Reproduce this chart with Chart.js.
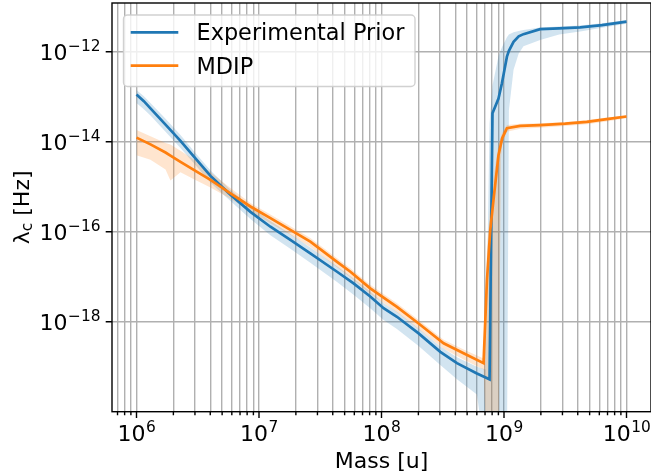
<!DOCTYPE html>
<html>
<head>
<meta charset="utf-8">
<script src="https://cdn.jsdelivr.net/npm/chart.js@4"></script>
<style>
html, body { margin: 0; padding: 0; background: #fff; }
#wrap { width: 651px; height: 476px; }
</style>
</head>
<body>
<div id="wrap"><canvas id="chart" width="651" height="476"></canvas></div>
<script>
// all values are log10: mass [u] and lambda_c [Hz]
const expMass = [6.000, 6.060, 6.114, 6.237, 6.359, 6.481, 6.604, 6.767, 6.930, 7.093, 7.256, 7.419, 7.637, 7.772, 7.908, 8.017, 8.126, 8.303, 8.480, 8.616, 8.779, 8.850, 8.882, 8.906, 8.955, 8.983, 9.024, 9.040, 9.078, 9.120, 9.159, 9.295, 9.450, 9.622, 9.800, 10.000];
const expMean = [-12.95, -13.10, -13.26, -13.62, -13.98, -14.37, -14.76, -15.18, -15.56, -15.89, -16.18, -16.48, -16.89, -17.15, -17.44, -17.70, -17.89, -18.26, -18.67, -18.92, -19.15, -19.24, -19.28, -13.37, -13.04, -12.70, -12.11, -11.98, -11.78, -11.66, -11.61, -11.50, -11.48, -11.46, -11.41, -11.33];
const expHi = [-12.85, -12.99, -13.14, -13.49, -13.85, -14.25, -14.64, -15.07, -15.44, -15.76, -16.05, -16.35, -16.77, -17.04, -17.33, -17.59, -17.78, -18.15, -18.55, -18.79, -19.00, -19.06, -13.60, -12.75, -12.10, -11.90, -11.68, -11.62, -11.57, -11.54, -11.52, -11.46, -11.44, -11.42, -11.37, -11.30];
const expLo = [-13.14, -13.28, -13.42, -13.78, -14.14, -14.52, -14.91, -15.32, -15.72, -16.08, -16.38, -16.69, -17.12, -17.40, -17.70, -17.96, -18.16, -18.54, -18.96, -19.28, -19.62, -21, -21, -21, -21, -21, -21, -13.30, -12.40, -12.04, -11.88, -11.74, -11.62, -11.55, -11.47, -11.38];

const mdipMass = [6.000, 6.114, 6.237, 6.277, 6.359, 6.481, 6.604, 6.767, 6.930, 7.093, 7.256, 7.419, 7.637, 7.746, 7.908, 8.126, 8.303, 8.507, 8.670, 8.833, 8.861, 8.888, 8.914, 8.955, 8.975, 8.985, 9.024, 9.132, 9.295, 9.500, 9.676, 9.839, 10.000];
const mdipMean = [-13.91, -14.06, -14.24, -14.31, -14.45, -14.65, -14.85, -15.15, -15.44, -15.70, -15.96, -16.22, -16.67, -16.89, -17.26, -17.67, -18.04, -18.48, -18.70, -18.92, -17.07, -15.96, -15.30, -14.30, -14.05, -13.92, -13.70, -13.65, -13.63, -13.60, -13.56, -13.50, -13.44];
const mdipHi = [-13.74, -13.88, -14.03, -14.06, -14.20, -14.42, -14.68, -15.03, -15.36, -15.62, -15.88, -16.14, -16.59, -16.81, -17.18, -17.59, -17.96, -18.40, -18.62, -18.82, -16.40, -15.40, -14.80, -14.05, -13.90, -13.80, -13.63, -13.60, -13.59, -13.56, -13.52, -13.46, -13.41];
const mdipLo = [-14.30, -14.40, -14.62, -14.86, -14.68, -14.85, -15.02, -15.27, -15.55, -15.81, -16.07, -16.34, -16.79, -17.01, -17.38, -17.79, -18.16, -18.60, -18.84, -19.06, -21, -21, -21, -21, -14.40, -14.06, -13.78, -13.71, -13.69, -13.65, -13.61, -13.55, -13.48];

const seriesNames = ['Experimental Prior', 'MDIP'];
const xMajorExps = [6, 7, 8, 9, 10];
const yMajorExps = [-12, -14, -16, -18];
const xRange = [5.8, 10.2];
const yRange = [-20.0, -10.918];

const BLUE = '#1f77b4';
const ORANGE = '#ff7f0e';
const FONT = '"DejaVu Sans", sans-serif';
const BIG = 22;
const SMALL = 15.4;
const LEGEND = 22.4;

function pts(mass, vals) {
    return mass.map((m, i) => ({ x: Math.pow(10, m), y: Math.pow(10, vals[i]) }));
}

// minor ticks 2..9 within each decade, plus the decades
const xTickValues = [];
for (let e = 5; e <= 10; e++) {
    for (let k = 1; k <= 9; k++) {
        const v = k * Math.pow(10, e);
        if (Math.log10(v) >= xRange[0] && Math.log10(v) <= xRange[1]) xTickValues.push(v);
    }
}

function drawPow(ctx, exp, x, y, align) {
    const base = '10';
    const sup = String(exp).replace('-', '\u2212');
    ctx.font = BIG + 'px ' + FONT;
    const w1 = ctx.measureText(base).width;
    ctx.font = SMALL + 'px ' + FONT;
    const w2 = ctx.measureText(sup).width;
    let x0 = align === 'right' ? x - w1 - w2 : x - (w1 + w2) / 2;
    ctx.textAlign = 'left';
    ctx.textBaseline = 'alphabetic';
    ctx.font = BIG + 'px ' + FONT;
    ctx.fillText(base, x0, y);
    ctx.font = SMALL + 'px ' + FONT;
    ctx.fillText(sup, x0 + w1 + 0.5, y - 8.5);
}

const decorations = {
    id: 'decorations',
    afterDraw(chart) {
        const ctx = chart.ctx;
        const area = chart.chartArea;
        const xs = chart.scales.x, ys = chart.scales.y;
        ctx.save();
        ctx.fillStyle = '#000';
        ctx.strokeStyle = '#000';
        ctx.lineWidth = 1.4;

        // frame
        ctx.strokeRect(area.left, area.top, area.right - area.left, area.bottom - area.top);

        // tick marks
        ctx.beginPath();
        xTickValues.forEach(v => {
            const px = xs.getPixelForValue(v);
            const major = xMajorExps.some(e => Math.abs(Math.log10(v) - e) < 1e-9);
            ctx.moveTo(px, area.bottom);
            ctx.lineTo(px, area.bottom + (major ? 6.3 : 3.6));
        });
        yMajorExps.forEach(e => {
            const py = ys.getPixelForValue(Math.pow(10, e));
            ctx.moveTo(area.left, py);
            ctx.lineTo(area.left - 6.3, py);
        });
        ctx.stroke();

        // tick labels
        xMajorExps.forEach(e => {
            drawPow(ctx, e, xs.getPixelForValue(Math.pow(10, e)), 440.5, 'center');
        });
        yMajorExps.forEach(e => {
            const py = ys.getPixelForValue(Math.pow(10, e));
            drawPow(ctx, e, area.left - 12, py + 8.3, 'right');
        });

        // axis titles
        ctx.font = BIG + 'px ' + FONT;
        ctx.textAlign = 'center';
        ctx.fillText('Mass [u]', (area.left + area.right) / 2, 468);

        ctx.save();
        ctx.translate(29, (area.top + area.bottom) / 2);
        ctx.rotate(-Math.PI / 2);
        ctx.font = BIG + 'px ' + FONT;
        const wl = ctx.measureText('\u03bb').width;
        const wr = ctx.measureText(' [Hz]').width;
        ctx.font = SMALL + 'px ' + FONT;
        const wc = ctx.measureText('c').width;
        let tx = -(wl + wc + wr) / 2;
        ctx.textAlign = 'left';
        ctx.font = BIG + 'px ' + FONT;
        ctx.fillText('\u03bb', tx, 0);
        ctx.font = SMALL + 'px ' + FONT;
        ctx.fillText('c', tx + wl, 3);
        ctx.font = BIG + 'px ' + FONT;
        ctx.fillText(' [Hz]', tx + wl + wc, 0);
        ctx.restore();

        // legend
        const lx = 123.5, ly = 15, lw = 291.5, lh = 71.5;
        ctx.beginPath();
        ctx.roundRect(lx, ly, lw, lh, 4);
        ctx.fillStyle = 'rgba(255,255,255,0.8)';
        ctx.fill();
        ctx.strokeStyle = 'rgba(204,204,204,0.9)';
        ctx.lineWidth = 1.4;
        ctx.stroke();
        [BLUE, ORANGE].forEach((c, i) => {
            const yy = 32.3 + i * 33.4;
            ctx.beginPath();
            ctx.moveTo(130.7, yy);
            ctx.lineTo(178.3, yy);
            ctx.strokeStyle = c;
            ctx.lineWidth = 2.7;
            ctx.stroke();
            ctx.fillStyle = '#000';
            ctx.font = LEGEND + 'px ' + FONT;
            ctx.textAlign = 'left';
            ctx.fillText(seriesNames[i], 196.5, yy + 8.1);
        });
        ctx.restore();
    }
};

const lineStyle = { pointRadius: 0, borderWidth: 2.7, tension: 0, fill: false };
const bandEdge = { pointRadius: 0, borderWidth: 0, borderColor: 'rgba(0,0,0,0)', tension: 0 };

new Chart(document.getElementById('chart'), {
    type: 'line',
    data: {
        datasets: [
            { label: seriesNames[1], data: pts(mdipMass, mdipMean), borderColor: ORANGE, ...lineStyle },
            { label: seriesNames[0], data: pts(expMass, expMean), borderColor: BLUE, ...lineStyle },
            { label: 'mdip hi', data: pts(mdipMass, mdipHi), fill: false, ...bandEdge },
            { label: 'mdip lo', data: pts(mdipMass, mdipLo), fill: '-1', backgroundColor: 'rgba(255,127,14,0.2)', ...bandEdge },
            { label: 'exp hi', data: pts(expMass, expHi), fill: false, ...bandEdge },
            { label: 'exp lo', data: pts(expMass, expLo), fill: '-1', backgroundColor: 'rgba(31,119,180,0.2)', ...bandEdge }
        ]
    },
    options: {
        responsive: false,
        devicePixelRatio: 1,
        animation: false,
        layout: { padding: { top: 3, right: 0, left: 0, bottom: 0 } },
        plugins: {
            legend: { display: false },
            tooltip: { enabled: false },
            filler: { propagate: false, drawTime: 'beforeDatasetsDraw' }
        },
        scales: {
            x: {
                type: 'logarithmic',
                min: Math.pow(10, xRange[0]),
                max: Math.pow(10, xRange[1]),
                afterBuildTicks: s => { s.ticks = xTickValues.map(v => ({ value: v })); },
                afterFit: s => { s.height = 64.3; },
                ticks: { display: false, autoSkip: false },
                grid: { color: '#b0b0b0', lineWidth: 1.4, drawTicks: false },
                border: { display: false }
            },
            y: {
                type: 'logarithmic',
                min: Math.pow(10, yRange[0]),
                max: Math.pow(10, yRange[1]),
                afterBuildTicks: s => { s.ticks = yMajorExps.map(e => ({ value: Math.pow(10, e) })); },
                afterFit: s => { s.width = 112; },
                ticks: { display: false, autoSkip: false },
                grid: { color: '#b0b0b0', lineWidth: 1.4, drawTicks: false },
                border: { display: false }
            }
        }
    },
    plugins: [decorations]
});
</script>
</body>
</html>
